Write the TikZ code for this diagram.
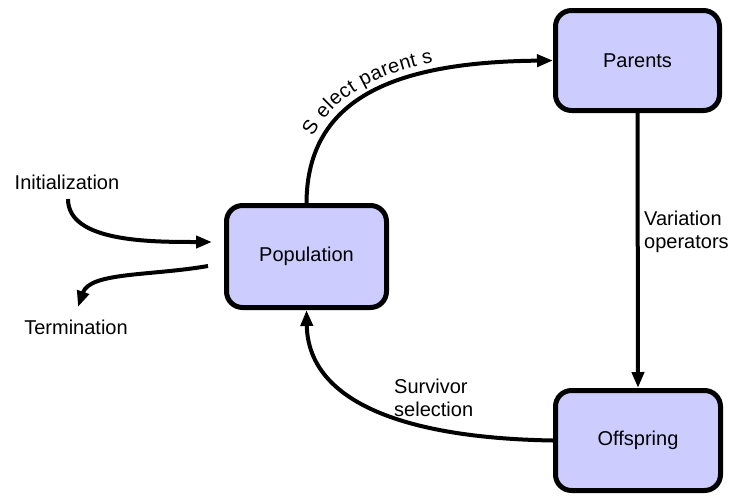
\documentclass[tikz,border=0pt]{standalone}
\usepackage{fontspec}
\setmainfont{Liberation Sans}
\usetikzlibrary{arrows.meta,decorations.text}
\newcommand{\lblfont}{\fontsize{20}{23.5}\selectfont}
\tikzset{
  box/.style={draw=black, line width=5pt, rounded corners=16pt, fill=boxfill, font=\lblfont, inner sep=0pt},
  conn/.style={line width=4pt, -{Triangle[length=16pt,width=12pt]}},
  lbl/.style={font=\lblfont, inner sep=0pt, align=left}
}
\definecolor{boxfill}{RGB}{204,204,255}
\begin{document}
\begin{tikzpicture}[x=1pt,y=-1pt]
\useasboundingbox (0,0) rectangle (731,496);
\node[box, minimum width=160pt, minimum height=102pt] (pop) at (306.5,256.5) {Population};
\node[box, minimum width=164pt, minimum height=100pt] (par) at (637.5,60.5) {Parents};
\node[box, minimum width=165pt, minimum height=100pt] (off) at (638,440.5) {Offspring};

\node[lbl] (init) at (67,182) {Initialization};
\node[lbl] (term) at (76,327) {Termination};
\node[lbl, anchor=west] (var) at (644,232) {Variation\\operators};
\node[lbl, anchor=west] (surv) at (394,398) {Survivor\\selection};

\coordinate (initend) at (68,199);
\coordinate (initto) at (212,242);
\coordinate (termstart) at (208,266);
\coordinate (termto) at (78,307);

% Select parents
\draw[conn, postaction={decorate, decoration={text along path, raise=9pt,
   text align={left indent=64pt}, text={|\lblfont|S elect parent s}}}]
  (pop.north) .. controls (307,95) and (400,62) .. (par.west);
% Variation
\draw[conn] (par.south) -- (off.north);
% Survivor selection
\draw[conn] (off.west) .. controls (400,438) and (308,400) .. (pop.south);
% Initialization
\draw[conn] (initend) .. controls (68,242) and (150,242) .. (initto);
% Termination
\draw[conn] (termstart) .. controls (150,276) and (90,272) .. (termto);
\end{tikzpicture}
\end{document}
